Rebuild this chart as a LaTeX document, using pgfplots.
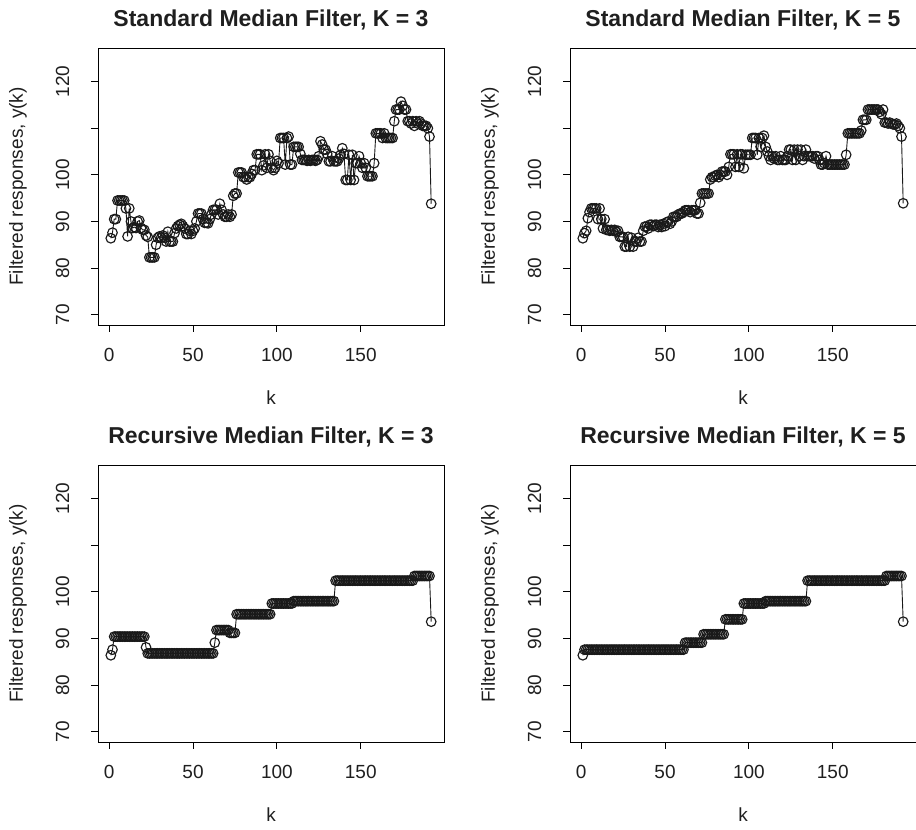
\documentclass[border=0pt]{standalone}
\usepackage{fontspec}
\setmainfont{Liberation Sans}
\usepackage{pgfplots}
\usepackage{pgfplotstable}
\pgfplotsset{compat=1.18}

\pgfplotstableread{
k s3 s5 r3 r5
1 86.4 86.4 86.4 86.4
2 87.6 87.5 87.6 87.6
3 90.5 88.0 90.4 87.6
4 90.5 90.7 90.4 87.6
5 94.5 92.0 90.4 87.6
6 94.5 92.8 90.4 87.6
7 94.5 92.8 90.4 87.6
8 94.5 92.8 90.4 87.6
9 94.5 92.8 90.4 87.6
10 92.8 90.5 90.4 87.6
11 86.8 92.8 90.4 87.6
12 92.8 90.5 90.4 87.6
13 90.0 88.5 90.4 87.6
14 88.6 90.5 90.4 87.6
15 88.8 88.2 90.4 87.6
16 88.6 88.2 90.4 87.6
17 90.0 88.0 90.4 87.6
18 90.2 88.2 90.4 87.6
19 88.6 88.0 90.4 87.6
20 88.2 88.2 90.4 87.6
21 88.2 87.8 90.4 87.6
22 87.0 88.0 88.1 87.6
23 86.7 86.7 86.8 87.6
24 82.3 86.7 86.8 87.6
25 82.3 86.7 86.8 87.6
26 82.3 84.6 86.8 87.6
27 82.3 84.6 86.8 87.6
28 85.0 86.7 86.8 87.6
29 86.5 84.6 86.8 87.6
30 86.8 86.5 86.8 87.6
31 86.5 84.6 86.8 87.6
32 87.0 85.7 86.8 87.6
33 86.5 85.7 86.8 87.6
34 85.7 86.5 86.8 87.6
35 87.8 85.7 86.8 87.6
36 85.7 85.7 86.8 87.6
37 85.7 88.0 86.8 87.6
38 85.7 88.9 86.8 87.6
39 87.5 88.9 86.8 87.6
40 88.5 88.5 86.8 87.6
41 89.0 89.3 86.8 87.6
42 89.3 89.3 86.8 87.6
43 89.5 89.0 86.8 87.6
44 89.0 89.3 86.8 87.6
45 88.5 89.3 86.8 87.6
46 87.3 88.8 86.8 87.6
47 87.3 89.3 86.8 87.6
48 88.0 88.8 86.8 87.6
49 87.3 89.5 86.8 87.6
50 88.0 89.0 86.8 87.6
51 88.5 89.8 86.8 87.6
52 90.0 90.0 86.8 87.6
53 91.7 89.5 86.8 87.6
54 91.7 90.0 86.8 87.6
55 91.7 91.0 86.8 87.6
56 90.5 91.0 86.8 87.6
57 89.7 91.0 86.8 87.6
58 89.7 91.5 86.8 87.6
59 89.6 91.7 86.8 87.6
60 90.5 91.7 86.8 87.6
61 91.5 92.0 86.8 87.6
62 92.5 92.4 86.8 89.1
63 92.5 92.4 89.1 89.1
64 92.5 92.4 91.8 89.1
65 91.5 92.0 91.8 89.1
66 93.8 92.4 91.8 89.1
67 92.5 92.4 91.8 89.1
68 91.5 92.4 91.8 89.1
69 91.0 91.7 91.8 89.1
70 91.0 91.7 91.8 89.1
71 91.5 94.0 91.8 89.1
72 91.0 96.0 91.2 89.1
73 91.5 96.0 91.2 90.9
74 95.5 96.0 91.2 90.9
75 96.0 96.0 91.2 90.9
76 96.0 96.0 95.2 90.9
77 100.5 99.0 95.2 90.9
78 100.5 99.5 95.2 90.9
79 100.5 99.5 95.2 90.9
80 99.5 99.8 95.2 90.9
81 99.5 100.0 95.2 90.9
82 99.0 99.5 95.2 90.9
83 99.5 100.0 95.2 90.9
84 99.5 100.7 95.2 90.9
85 100.2 100.7 95.2 90.9
86 101.0 100.7 95.2 94.1
87 101.0 100.0 95.2 94.1
88 104.4 101.7 95.2 94.1
89 104.4 104.4 95.2 94.1
90 104.4 104.4 95.2 94.1
91 101.0 104.4 95.2 94.1
92 102.0 101.7 95.2 94.1
93 104.4 104.4 95.2 94.1
94 101.5 101.7 95.2 94.1
95 104.4 104.4 95.2 94.1
96 103.0 104.4 95.2 94.1
97 101.5 101.4 97.5 97.5
98 101.0 104.3 97.5 97.5
99 101.5 104.3 97.5 97.5
100 103.0 104.3 97.5 97.5
101 102.5 104.3 97.5 97.5
102 107.9 107.9 97.5 97.5
103 107.9 107.9 97.5 97.5
104 107.9 107.9 97.5 97.5
105 102.2 104.3 97.5 97.5
106 107.9 107.9 97.5 97.5
107 108.2 106.0 97.5 97.5
108 102.2 107.9 97.5 97.5
109 102.2 108.4 97.5 97.5
110 106.0 106.0 98.0 98.0
111 106.0 105.0 98.0 98.0
112 106.0 104.0 98.0 98.0
113 106.0 103.2 98.0 98.0
114 104.5 104.0 98.0 98.0
115 103.2 103.5 98.0 98.0
116 103.2 104.0 98.0 98.0
117 103.2 103.2 98.0 98.0
118 103.0 103.2 98.0 98.0
119 103.2 104.0 98.0 98.0
120 103.0 103.2 98.0 98.0
121 103.2 103.2 98.0 98.0
122 103.2 103.2 98.0 98.0
123 103.0 104.0 98.0 98.0
124 103.2 105.4 98.0 98.0
125 104.0 105.4 98.0 98.0
126 107.2 103.2 98.0 98.0
127 106.5 105.4 98.0 98.0
128 105.4 103.2 98.0 98.0
129 105.4 105.4 98.0 98.0
130 104.5 104.0 98.0 98.0
131 102.9 105.4 98.0 98.0
132 102.9 103.2 98.0 98.0
133 104.0 104.0 98.0 98.0
134 102.9 105.4 98.0 98.0
135 102.9 104.0 102.4 102.4
136 102.9 104.0 102.4 102.4
137 103.5 104.0 102.4 102.4
138 104.3 104.0 102.4 102.4
139 105.7 103.5 102.4 102.4
140 104.5 104.0 102.4 102.4
141 98.9 104.0 102.4 102.4
142 98.9 103.2 102.4 102.4
143 104.3 102.2 102.4 102.4
144 98.9 102.2 102.4 102.4
145 104.3 102.5 102.4 102.4
146 98.9 104.0 102.4 102.4
147 102.5 102.2 102.4 102.4
148 102.5 102.2 102.4 102.4
149 104.0 102.2 102.4 102.4
150 102.5 102.2 102.4 102.4
151 101.5 102.2 102.4 102.4
152 102.5 102.2 102.4 102.4
153 101.5 102.2 102.4 102.4
154 99.7 102.2 102.4 102.4
155 99.7 102.2 102.4 102.4
156 99.7 102.2 102.4 102.4
157 99.7 102.2 102.4 102.4
158 102.5 104.3 102.4 102.4
159 108.9 108.9 102.4 102.4
160 108.9 108.9 102.4 102.4
161 108.9 108.9 102.4 102.4
162 108.9 108.9 102.4 102.4
163 107.9 108.9 102.4 102.4
164 108.9 108.9 102.4 102.4
165 107.9 108.9 102.4 102.4
166 107.9 108.9 102.4 102.4
167 107.9 109.5 102.4 102.4
168 107.9 111.8 102.4 102.4
169 107.9 111.8 102.4 102.4
170 111.5 111.8 102.4 102.4
171 114.0 114.0 102.4 102.4
172 114.0 114.0 102.4 102.4
173 114.0 114.0 102.4 102.4
174 115.7 114.0 102.4 102.4
175 114.8 114.0 102.4 102.4
176 114.0 114.0 102.4 102.4
177 114.0 114.0 102.4 102.4
178 111.5 113.5 102.4 102.4
179 111.5 113.0 102.4 102.4
180 111.0 114.0 102.4 102.4
181 111.5 111.2 102.4 102.4
182 110.5 111.2 103.4 103.4
183 111.5 111.0 103.4 103.4
184 111.0 111.2 103.4 103.4
185 111.5 111.0 103.4 103.4
186 111.0 110.8 103.4 103.4
187 110.5 110.8 103.4 103.4
188 110.5 111.0 103.4 103.4
189 110.5 110.5 103.4 103.4
190 110.0 110.0 103.4 103.4
191 108.2 108.2 103.4 103.4
192 93.8 93.9 93.6 93.6
}\filt

\pgfplotsset{
  rplot/.style={
    width=346pt, height=277pt, scale only axis,
    anchor=south west,
    xmin=-6.64, xmax=199.64, ymin=67.8, ymax=127.2,
    xtick={0,50,100,150}, xticklabels={0,50,100,150},
    ytick={70,80,90,100,110,120}, yticklabels={70,80,90,100,,120},
    /pgf/number format/assume math mode=true,
    tick align=outside, major tick length=7pt,
    xtick pos=bottom, ytick pos=left,
    every tick/.style={black, line width=0.9pt},
    axis line style={black, line width=0.9pt},
    tick label style={font=\fontsize{19}{22}\selectfont, text=black!88, inner sep=0pt},
    yticklabel style={rotate=90, anchor=south},
    xticklabel style={anchor=north},
    yticklabel shift=21.5pt,
    xticklabel shift=16pt,
    xlabel={k}, ylabel={Filtered responses, y(k)},
    label style={font=\fontsize{19}{22}\selectfont, text=black!88},
    xlabel style={at={(axis description cs:0.5,0)}, anchor=center, yshift=-73pt},
    ylabel style={at={(axis description cs:-0.231,0.5)}, anchor=center, rotate=0},
    title style={font=\bfseries\fontsize{23}{26}\selectfont, text=black!88, at={(axis description cs:0.5,1)}, anchor=center, yshift=22pt},
  },
  rline/.style={black!90, line width=0.9pt, mark=o, mark size=4.8pt, mark options={line width=1.15pt, solid}},
}

\begin{document}
\begin{tikzpicture}
\path[use as bounding box] (0,0) rectangle (916pt,830pt);
\begin{axis}[rplot, at={(98pt,505pt)}, title={Standard Median Filter, K = 3}]
\addplot[rline] table[x=k, y=s3] {\filt};
\end{axis}
\begin{axis}[rplot, at={(570pt,505pt)}, title={Standard Median Filter, K = 5}]
\addplot[rline] table[x=k, y=s5] {\filt};
\end{axis}
\begin{axis}[rplot, at={(98pt,88pt)}, title={Recursive Median Filter, K = 3}]
\addplot[rline] table[x=k, y=r3] {\filt};
\end{axis}
\begin{axis}[rplot, at={(570pt,88pt)}, title={Recursive Median Filter, K = 5}]
\addplot[rline] table[x=k, y=r5] {\filt};
\end{axis}
\end{tikzpicture}
\end{document}
